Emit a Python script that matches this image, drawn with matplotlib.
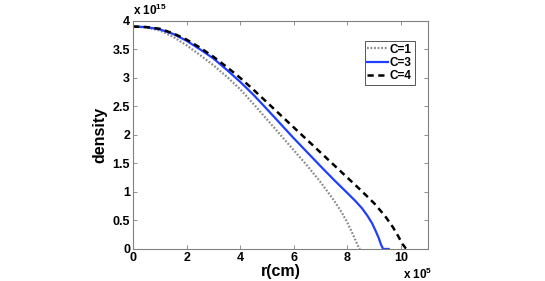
import matplotlib
matplotlib.use("Agg")
from matplotlib import pyplot as plt

plt.rcParams['font.family'] = ['Liberation Sans', 'DejaVu Sans']
plt.rcParams['mathtext.fontset'] = 'custom'
plt.rcParams['mathtext.rm'] = 'Liberation Sans:bold'

# data (r in 1e5 cm, density in 1e15)
r_c1 = [0, 0.5, 1, 1.5, 2, 2.5, 3, 3.5, 4, 4.5, 5, 5.5, 6, 6.5, 7, 7.5, 7.8, 8.0, 8.2, 8.35, 8.43, 8.47]
d_c1 = [3.9, 3.88, 3.83, 3.72, 3.57, 3.40, 3.22, 3.02, 2.80, 2.54, 2.27, 2.0, 1.73, 1.46, 1.17,
        0.85, 0.63, 0.46, 0.26, 0.1, 0.02, 0.0]

r_c3 = [0, 0.5, 1, 1.5, 2, 2.5, 3, 3.5, 4, 4.5, 5, 6, 7, 7.5, 8, 8.3, 8.55, 8.75, 8.92, 9.05, 9.17,
        9.25, 9.32, 9.36, 9.54]
d_c3 = [3.9, 3.89, 3.85, 3.77, 3.65, 3.5, 3.34, 3.14, 2.93, 2.70, 2.45, 1.94, 1.45, 1.21, 0.98,
        0.84, 0.71, 0.58, 0.45, 0.32, 0.19, 0.08, 0.01, 0.0, 0.0]

r_c4 = [0, 0.5, 1, 1.5, 2, 2.5, 3, 3.5, 4, 4.5, 5, 6, 7, 8, 8.5, 9, 9.4, 9.7, 9.9, 10.05, 10.18,
        10.25, 10.34]
d_c4 = [3.9, 3.89, 3.86, 3.78, 3.67, 3.53, 3.37, 3.19, 3.0, 2.79, 2.57, 2.13, 1.69, 1.25, 1.03,
        0.80, 0.58, 0.38, 0.22, 0.09, 0.01, 0.0, 0.0]

xticks = [0, 2, 4, 6, 8, 10]
yticks = [0, 0.5, 1, 1.5, 2, 2.5, 3, 3.5, 4]
ytick_labels = ['0', '0.5', '1', '1.5', '2', '2.5', '3', '3.5', '4']

fig = plt.figure(figsize=(5.45, 2.81), dpi=100)
ax = fig.add_axes([0.244, 0.114, 0.541, 0.812])

ax.plot(r_c1, d_c1, color='#8a8a8a', linestyle=(0, (0.8, 0.8)), linewidth=1.6, label='C=1')
ax.plot(r_c3, d_c3, color='#1f3fff', linestyle='-', linewidth=1.6, label='C=3')
ax.plot(r_c4, d_c4, color='black', linestyle=(0, (2.5, 1.8)), linewidth=1.8, label='C=4')

ax.set_xlim(0, 11)
ax.set_ylim(0, 4)
ax.set_xticks(xticks)
ax.set_yticks(yticks)
ax.set_xticklabels([str(t) for t in xticks], fontweight='bold', fontsize=9)
ax.set_yticklabels(ytick_labels, fontweight='bold', fontsize=9)
ax.tick_params(direction='in', top=True, right=True, length=3, width=0.6, color='#808080', pad=2)
for s in ax.spines.values():
    s.set_color('#808080')
    s.set_linewidth(0.8)

ax.set_xlabel('r(cm)', fontweight='bold', fontsize=11.5, labelpad=0)
ax.set_ylabel('density', fontweight='bold', fontsize=11.5, labelpad=4)

ax.text(0.0, 1.012, r'x 10$^{15}$', transform=ax.transAxes, fontsize=8.5,
        fontweight='bold', ha='left', va='bottom')
ax.text(0.915, -0.08, r'x 10$^{5}$', transform=ax.transAxes, fontsize=8.5,
        fontweight='bold', ha='left', va='top')

leg = ax.legend(loc='upper right', bbox_to_anchor=(0.956, 0.913),
                prop={'weight': 'bold', 'size': 8.5}, fancybox=False, framealpha=1,
                handlelength=1.7, handletextpad=0.2, borderpad=0.25, labelspacing=0.1,
                borderaxespad=0)
leg.get_frame().set_edgecolor('#555555')
leg.get_frame().set_linewidth(0.7)

fig.savefig('out.png', dpi=100)
